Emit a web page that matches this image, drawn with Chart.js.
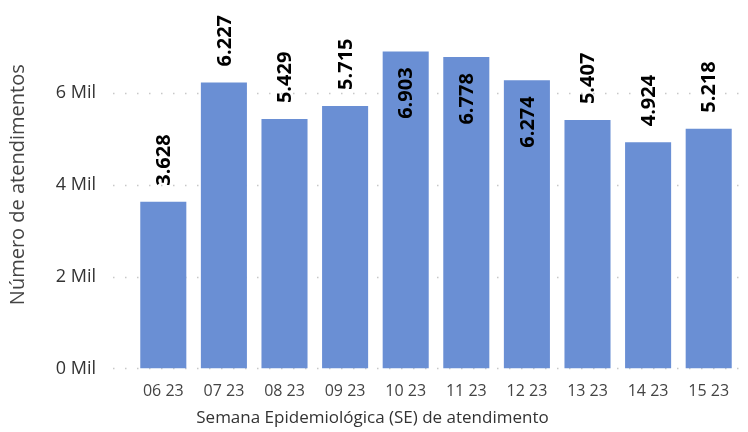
<!DOCTYPE html>
<html>
<head>
<meta charset="utf-8">
<script src="https://cdn.jsdelivr.net/npm/chart.js@4.4.0/dist/chart.umd.min.js"></script>
<style>
  body { margin: 0; background: #fff; }
  #wrap { width: 748px; height: 432px; }
</style>
</head>
<body>
<div id="wrap"><canvas id="myChart" width="748" height="432"></canvas></div>
<script>
const semanas = ['06 23', '07 23', '08 23', '09 23', '10 23', '11 23', '12 23', '13 23', '14 23', '15 23'];
const atendimentos = [3628, 6227, 5429, 5715, 6903, 6778, 6274, 5407, 4924, 5218];
const yTicks = [0, 2000, 4000, 6000];

const font = "'Open Sans', 'Noto Sans', sans-serif";

// dotted gridlines, running a bit left of the bars like the original
const dottedGrid = {
    id: 'dottedGrid',
    beforeDatasetsDraw(chart) {
        const ctx = chart.ctx;
        const y = chart.scales.y;
        ctx.save();
        ctx.strokeStyle = '#c8c8c8';
        ctx.lineWidth = 1.5;
        ctx.setLineDash([1.5, 10.5]);
        yTicks.forEach(v => {
            const py = Math.round(y.getPixelForValue(v)) + 0.5;
            ctx.beginPath();
            ctx.moveTo(113, py);
            ctx.lineTo(chart.chartArea.right + 3, py);
            ctx.stroke();
        });
        ctx.restore();
    }
};

// rotated value labels
const valueLabels = {
    id: 'valueLabels',
    afterDatasetsDraw(chart) {
        const ctx = chart.ctx;
        const meta = chart.getDatasetMeta(0);
        ctx.save();
        ctx.font = 'bold 20px ' + font;
        ctx.fillStyle = '#000';
        ctx.textBaseline = 'middle';
        meta.data.forEach((bar, i) => {
            const v = atendimentos[i];
            const txt = v.toLocaleString('pt-BR');
            ctx.save();
            ctx.translate(bar.x + 1, bar.y);
            ctx.rotate(-Math.PI / 2);
            if (v > 6250) {
                ctx.textAlign = 'right';
                ctx.fillText(txt, -16, 0);
            } else {
                ctx.textAlign = 'left';
                ctx.fillText(txt, 16, 0);
            }
            ctx.restore();
        });
        ctx.restore();
    }
};

const data = {
    labels: semanas,
    datasets: [{
        data: atendimentos,
        backgroundColor: '#6a8fd4',
        barPercentage: 0.76,
        categoryPercentage: 1.0,
    }]
};

const config = {
    type: 'bar',
    data: data,
    options: {
        responsive: false,
        animation: false,
        layout: { padding: { top: 1, right: 9, left: 6, bottom: 4 } },
        plugins: {
            legend: { display: false },
            tooltip: { enabled: false },
            title: {
                display: true,
                position: 'bottom',
                text: 'Semana Epidemiológica (SE) de atendimento',
                color: '#333',
                font: { family: font, size: 17, weight: 'normal' },
                padding: { top: 2, bottom: 0 },
            }
        },
        scales: {
            x: {
                grid: { display: false },
                border: { display: false },
                ticks: {
                    color: '#444',
                    font: { family: font, size: 16 },
                    maxRotation: 0,
                    padding: 5,
                }
            },
            y: {
                min: 0,
                max: 8000,
                grid: { display: false },
                border: { display: false },
                afterFit(scale) {
                    scale.width = 127;
                    scale.paddingTop = 0;
                    scale.paddingBottom = 8;
                },
                ticks: {
                    stepSize: 2000,
                    color: '#333',
                    font: { family: font, size: 18 },
                    padding: 29,
                    callback: v => v === 8000 ? '' : (v / 1000) + ' Mil',
                },
                title: {
                    display: true,
                    text: 'Número de atendimentos',
                    color: '#444',
                    font: { family: font, size: 20 },
                    padding: { top: 0, bottom: 4 },
                }
            }
        }
    },
    plugins: [dottedGrid, valueLabels]
};

const myChart = new Chart(document.getElementById('myChart'), config);
</script>
</body>
</html>
